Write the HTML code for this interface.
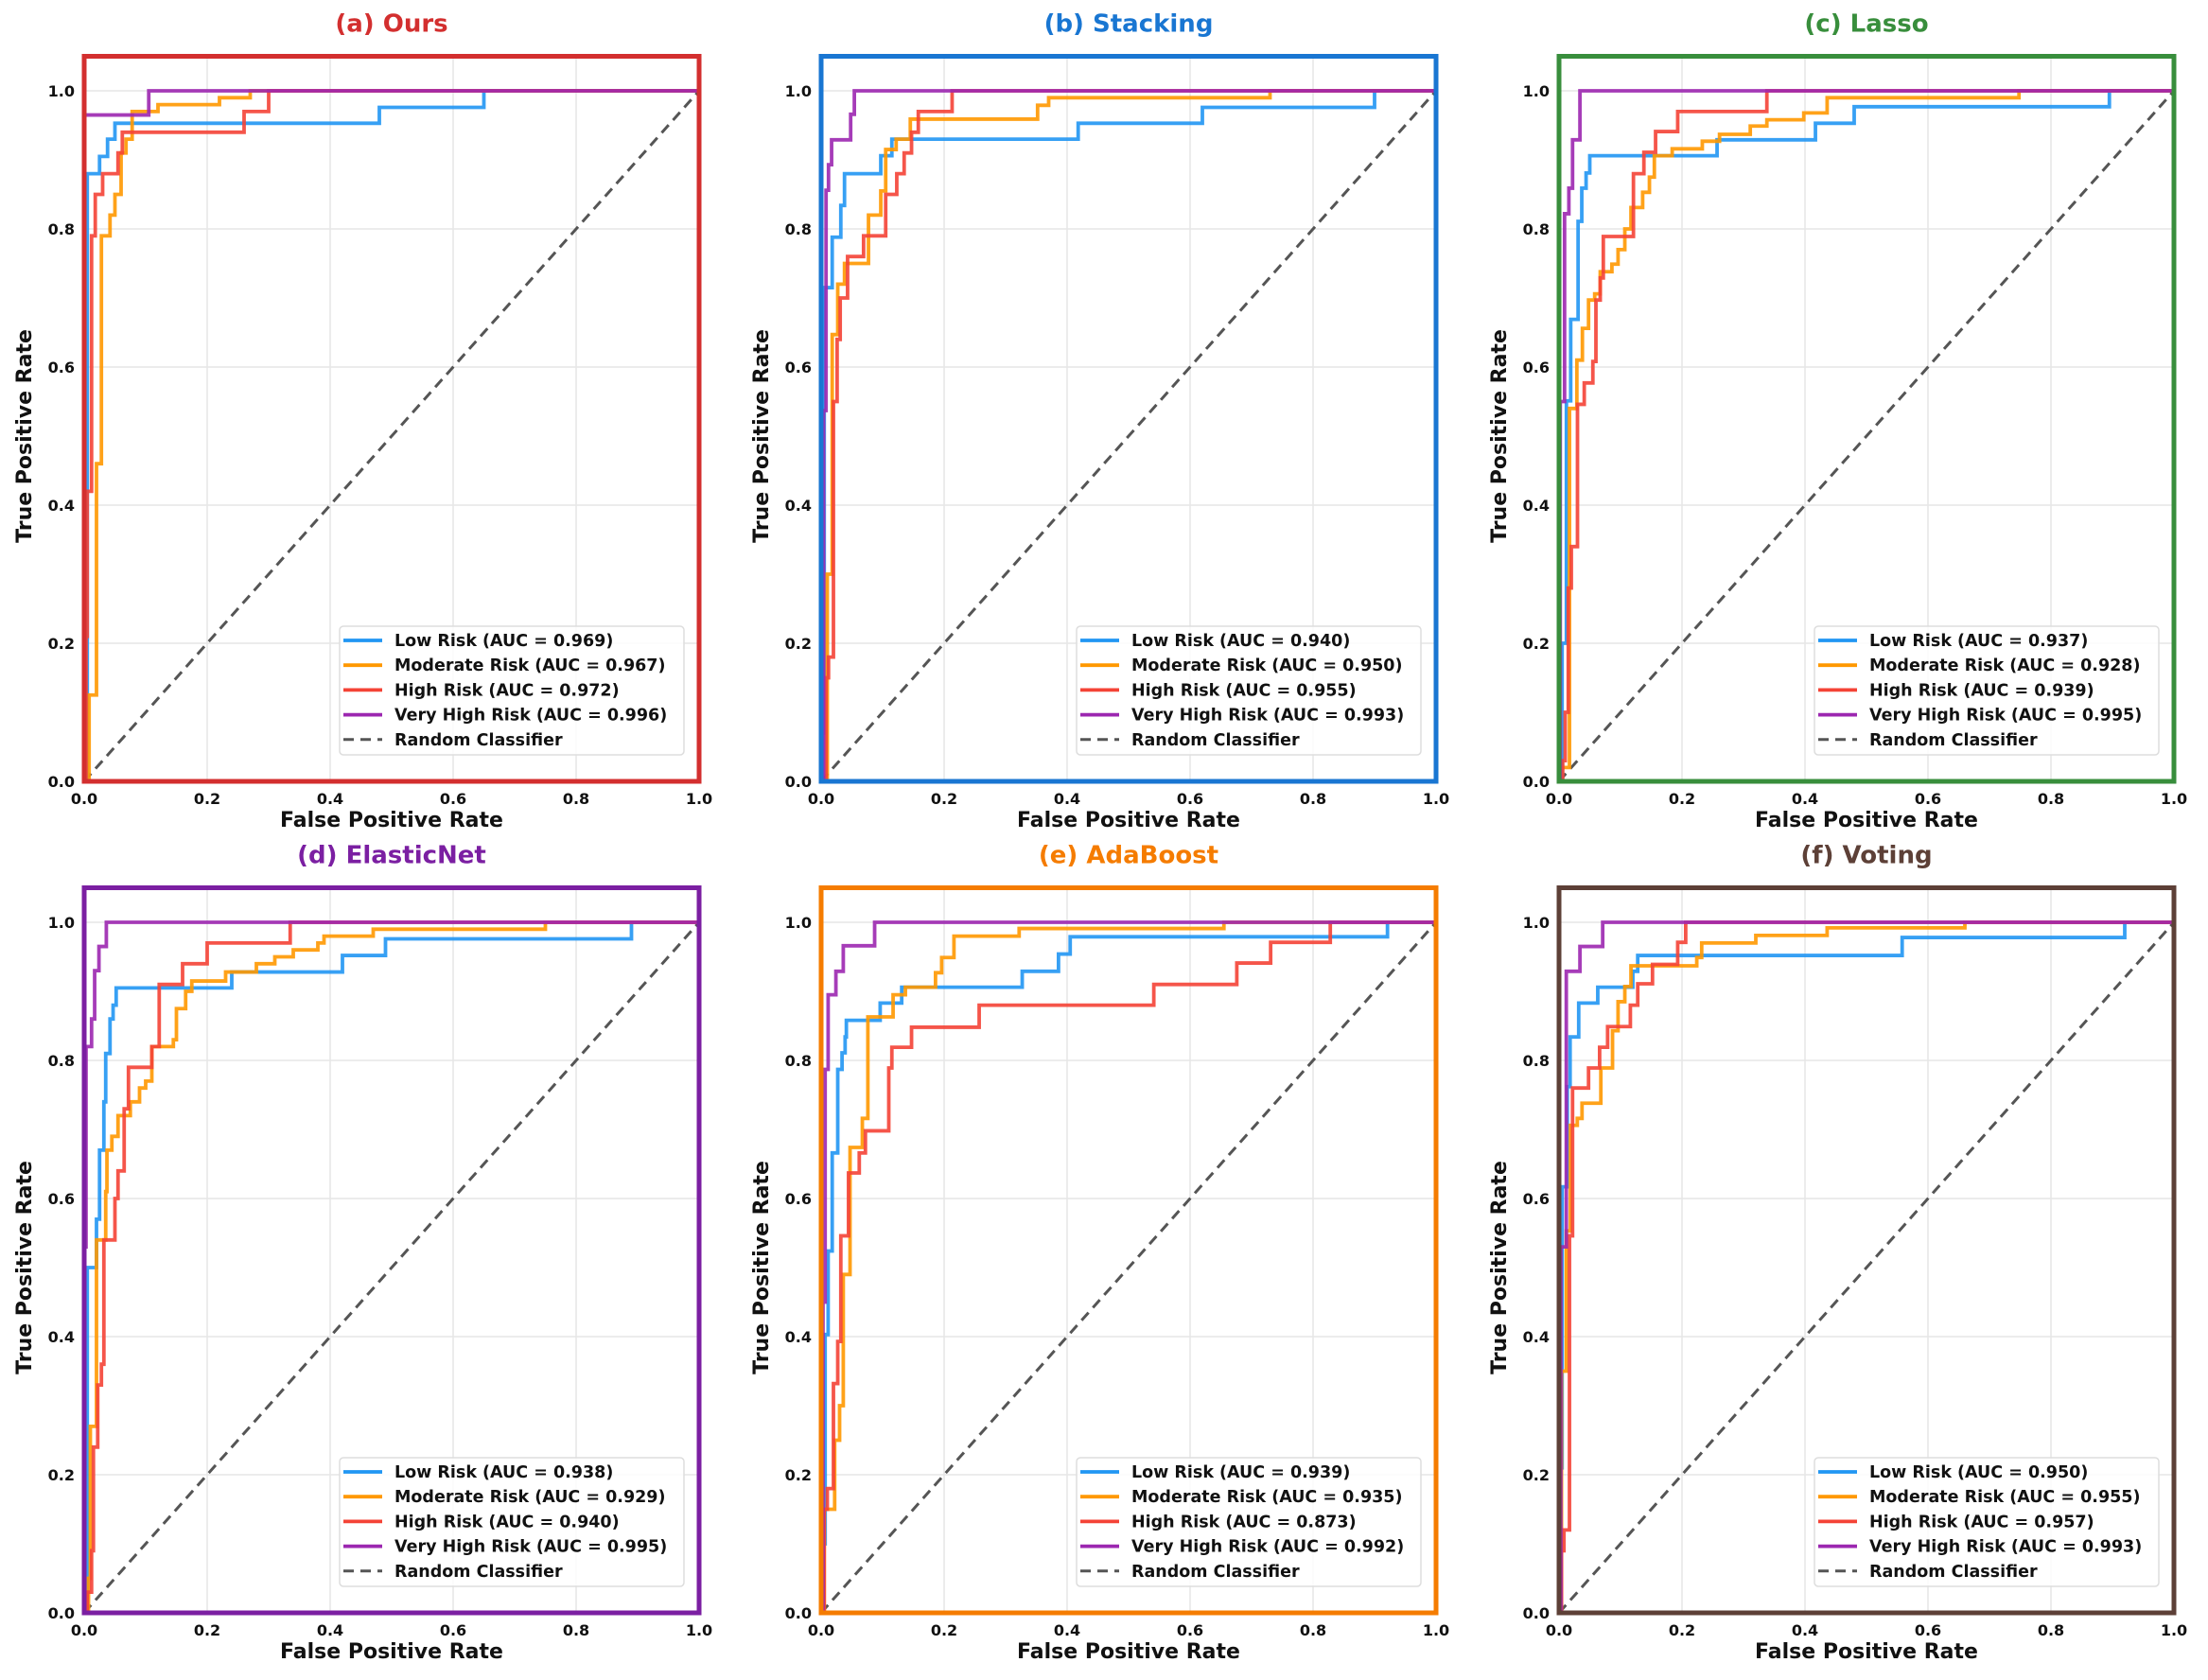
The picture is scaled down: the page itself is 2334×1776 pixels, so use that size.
<!DOCTYPE html>
<html><head><meta charset="utf-8">
<style>
html,body{margin:0;padding:0;background:#fff;}
svg{display:block;font-family:"DejaVu Sans","Liberation Sans",sans-serif;}
</style></head>
<body>
<svg id="fig" width="2334" height="1776" viewBox="0 0 2334 1776" xmlns="http://www.w3.org/2000/svg"></svg>
<script>
// ---- data ----
const panelTitles = ["(a) Ours","(b) Stacking","(c) Lasso","(d) ElasticNet","(e) AdaBoost","(f) Voting"];
const seriesNames = ["Low Risk","Moderate Risk","High Risk","Very High Risk"];
const xTicks = [0,0.2,0.4,0.6,0.8,1.0];
const yTicks = [0,0.2,0.4,0.6,0.8,1.0];
const tickLabels = ["0.0","0.2","0.4","0.6","0.8","1.0"];
const aucA = ["0.969","0.967","0.972","0.996"];
const aucB = ["0.940","0.950","0.955","0.993"];
const aucC = ["0.937","0.928","0.939","0.995"];
const aucD = ["0.938","0.929","0.940","0.995"];
const aucE = ["0.939","0.935","0.873","0.992"];
const aucF = ["0.950","0.955","0.957","0.993"];
// ROC points [fpr, tpr] per panel/series
const rocA_low = [[0,0],[0.005,0.66],[0.005,0.88],[0.025,0.905],[0.038,0.93],[0.05,0.953],[0.48,0.976],[0.65,1],[1,1]];
const rocA_mod = [[0,0],[0.008,0.1],[0.008,0.125],[0.02,0.46],[0.028,0.79],[0.042,0.82],[0.05,0.85],[0.06,0.91],[0.068,0.93],[0.078,0.97],[0.12,0.98],[0.22,0.99],[0.27,1],[1,1]];
const rocA_high = [[0,0],[0.003,0.21],[0.005,0.42],[0.012,0.79],[0.018,0.85],[0.03,0.88],[0.055,0.91],[0.062,0.94],[0.26,0.97],[0.3,1],[1,1]];
const rocA_vh = [[0,0],[0,0.965],[0.105,1],[1,1]];
const rocB_low = [[0,0],[0.002,0.07],[0.005,0.715],[0.018,0.788],[0.032,0.834],[0.038,0.88],[0.097,0.906],[0.115,0.93],[0.418,0.953],[0.62,0.976],[0.9,1],[1,1]];
const rocB_mod = [[0,0],[0.01,0.3],[0.018,0.647],[0.027,0.72],[0.038,0.75],[0.077,0.82],[0.097,0.855],[0.105,0.915],[0.122,0.93],[0.145,0.959],[0.352,0.979],[0.37,0.99],[0.73,1],[1,1]];
const rocB_high = [[0,0],[0.008,0.15],[0.012,0.18],[0.02,0.55],[0.026,0.64],[0.031,0.7],[0.043,0.76],[0.069,0.79],[0.105,0.85],[0.123,0.88],[0.135,0.91],[0.147,0.94],[0.158,0.97],[0.213,1],[1,1]];
const rocB_vh = [[0,0],[0.004,0.537],[0.008,0.856],[0.012,0.893],[0.017,0.929],[0.048,0.966],[0.054,1],[1,1]];
const rocC_low = [[0,0],[0.005,0.2],[0.012,0.551],[0.019,0.669],[0.031,0.811],[0.037,0.859],[0.044,0.881],[0.05,0.906],[0.257,0.929],[0.417,0.953],[0.48,0.977],[0.895,1],[1,1]];
const rocC_mod = [[0,0],[0.003,0.02],[0.017,0.54],[0.029,0.61],[0.038,0.656],[0.048,0.697],[0.058,0.706],[0.067,0.738],[0.086,0.749],[0.096,0.77],[0.107,0.8],[0.117,0.831],[0.136,0.853],[0.147,0.875],[0.155,0.906],[0.184,0.916],[0.233,0.927],[0.261,0.937],[0.311,0.949],[0.338,0.958],[0.398,0.968],[0.436,0.99],[0.748,1],[1,1]];
const rocC_high = [[0,0],[0.006,0.03],[0.01,0.1],[0.015,0.28],[0.02,0.34],[0.03,0.546],[0.041,0.577],[0.055,0.608],[0.06,0.697],[0.067,0.729],[0.072,0.789],[0.121,0.88],[0.138,0.911],[0.157,0.941],[0.193,0.97],[0.338,1],[1,1]];
const rocC_vh = [[0,0],[0.002,0.55],[0.009,0.822],[0.016,0.859],[0.022,0.929],[0.034,1],[1,1]];
const rocD_low = [[0,0],[0.005,0.5],[0.02,0.57],[0.025,0.67],[0.032,0.74],[0.035,0.81],[0.042,0.86],[0.047,0.88],[0.052,0.905],[0.24,0.928],[0.42,0.952],[0.49,0.976],[0.89,1],[1,1]];
const rocD_mod = [[0,0],[0.007,0.05],[0.01,0.27],[0.02,0.54],[0.035,0.61],[0.037,0.67],[0.045,0.69],[0.055,0.72],[0.075,0.74],[0.09,0.76],[0.1,0.77],[0.11,0.82],[0.145,0.83],[0.15,0.875],[0.165,0.9],[0.175,0.915],[0.23,0.928],[0.28,0.94],[0.31,0.95],[0.34,0.96],[0.38,0.97],[0.39,0.98],[0.47,0.99],[0.75,1],[1,1]];
const rocD_high = [[0,0],[0.005,0.03],[0.012,0.09],[0.015,0.24],[0.022,0.33],[0.028,0.36],[0.032,0.54],[0.05,0.6],[0.055,0.64],[0.065,0.73],[0.072,0.79],[0.11,0.82],[0.122,0.91],[0.16,0.94],[0.2,0.97],[0.335,1],[1,1]];
const rocD_vh = [[0,0],[0,0.53],[0.003,0.82],[0.012,0.86],[0.017,0.93],[0.024,0.965],[0.036,1],[1,1]];
const rocE_low = [[0,0],[0.003,0.1],[0.0065,0.403],[0.0114,0.524],[0.018,0.666],[0.027,0.787],[0.034,0.811],[0.039,0.834],[0.041,0.858],[0.096,0.883],[0.131,0.906],[0.327,0.929],[0.386,0.954],[0.405,0.979],[0.921,1],[1,1]];
const rocE_mod = [[0,0],[0.005,0.15],[0.022,0.25],[0.03,0.3],[0.036,0.49],[0.047,0.674],[0.067,0.716],[0.076,0.863],[0.117,0.895],[0.137,0.906],[0.186,0.927],[0.196,0.949],[0.216,0.98],[0.322,0.991],[0.655,1],[1,1]];
const rocE_high = [[0,0],[0.005,0.15],[0.01,0.18],[0.02,0.332],[0.027,0.393],[0.032,0.546],[0.0445,0.637],[0.062,0.666],[0.072,0.698],[0.11,0.789],[0.115,0.819],[0.147,0.848],[0.257,0.88],[0.541,0.91],[0.676,0.941],[0.731,0.971],[0.828,1],[1,1]];
const rocE_vh = [[0,0],[0.003,0.45],[0.0065,0.787],[0.0114,0.895],[0.024,0.929],[0.036,0.966],[0.087,1],[1,1]];
const rocF_low = [[0,0],[0.002,0.21],[0.005,0.617],[0.0134,0.762],[0.018,0.834],[0.032,0.883],[0.063,0.906],[0.12,0.929],[0.128,0.952],[0.558,0.978],[0.92,1],[1,1]];
const rocF_mod = [[0,0],[0.004,0.35],[0.0118,0.553],[0.0185,0.706],[0.0297,0.716],[0.0374,0.738],[0.068,0.789],[0.087,0.843],[0.096,0.885],[0.107,0.907],[0.117,0.937],[0.224,0.949],[0.232,0.97],[0.32,0.981],[0.436,0.992],[0.66,1],[1,1]];
const rocF_high = [[0,0],[0.004,0.09],[0.008,0.12],[0.017,0.546],[0.022,0.76],[0.048,0.789],[0.066,0.819],[0.079,0.849],[0.116,0.88],[0.128,0.911],[0.152,0.939],[0.193,0.971],[0.206,1],[1,1]];
const rocF_vh = [[0,0],[0.003,0.53],[0.0118,0.929],[0.034,0.965],[0.071,1],[1,1]];

const panelRocs = [[rocA_low,rocA_mod,rocA_high,rocA_vh],[rocB_low,rocB_mod,rocB_high,rocB_vh],[rocC_low,rocC_mod,rocC_high,rocC_vh],[rocD_low,rocD_mod,rocD_high,rocD_vh],[rocE_low,rocE_mod,rocE_high,rocE_vh],[rocF_low,rocF_mod,rocF_high,rocF_vh]];
const panelAucs = [aucA,aucB,aucC,aucD,aucE,aucF];

// ---- styles / layout ----
const seriesColors = ["#2196F3","#FF9800","#F44336","#9C27B0"];
const frameColors = ["#D32F2F","#1976D2","#388E3C","#7B1FA2","#F57C00","#5D4037"];
const colX0 = [89,868,1648];
const rowY0 = [826,1705];
const W = 650, H = 730;
const NS = "http://www.w3.org/2000/svg";
const svg = document.getElementById('fig');
function mk(tag, attrs, parent){const e=document.createElementNS(NS,tag);for(const k in attrs)e.setAttribute(k,attrs[k]);(parent||svg).appendChild(e);return e;}

for(let p=0;p<6;p++){
  const x0 = colX0[p%3], y0 = rowY0[Math.floor(p/3)];
  const sx = v => x0 + v*W;
  const sy = v => y0 - v*H;
  const g = mk('g',{});
  
  
  for(let i=0;i<xTicks.length;i++){
    const gl = mk('line',{x1:sx(xTicks[i]),x2:sx(xTicks[i]),y1:sy(0),y2:sy(1.05),stroke:'#e6e6e6','stroke-width':1.5},g);
    
    
    const hl = mk('line',{x1:sx(0),x2:sx(1),y1:sy(yTicks[i]),y2:sy(yTicks[i]),stroke:'#e6e6e6','stroke-width':1.5},g);
    
    
  }
  const diag = mk('line',{x1:sx(0),y1:sy(0),x2:sx(1),y2:sy(1),stroke:'#555','stroke-width':3,'stroke-dasharray':'11,7'},g);
  
  
  const rocs = panelRocs[p];
  for(let s=0;s<4;s++){
    const pts = rocs[s];
    let d = 'M'+sx(pts[0][0])+','+sy(pts[0][1]);
    for(let i=1;i<pts.length;i++){
      d += ' L'+sx(pts[i][0])+','+sy(pts[i-1][1])+' L'+sx(pts[i][0])+','+sy(pts[i][1]);
    }
    const path = mk('path',{d:d,fill:'none',stroke:seriesColors[s],'stroke-width':3.8,'stroke-opacity':0.9,'stroke-linejoin':'miter'},g);
    
    
  }
  const fr = mk('rect',{x:sx(0),y:sy(1.05),width:W,height:H*1.05,fill:'none',stroke:frameColors[p],'stroke-width':5},g);
  
  
  for(let i=0;i<xTicks.length;i++){
    const tx = mk('text',{x:sx(xTicks[i]),y:y0+24,'text-anchor':'middle','font-size':16,'font-weight':'bold',fill:'#111'},g);
    tx.textContent = tickLabels[i];
    
    
    const ty = mk('text',{x:x0-10,y:sy(yTicks[i])+6,'text-anchor':'end','font-size':16,'font-weight':'bold',fill:'#111'},g);
    ty.textContent = tickLabels[i];
    
    
  }
  const xl = mk('text',{x:x0+W/2,y:y0+48,'text-anchor':'middle','font-size':22,'font-weight':'bold',fill:'#111'},g);
  xl.textContent='False Positive Rate';
  
  
  const ycx = x0-56, ycy = y0-H*0.5;
  const yl = mk('text',{x:ycx,y:ycy,'text-anchor':'middle','font-size':22,'font-weight':'bold',fill:'#111',transform:'rotate(-90 '+ycx+' '+ycy+')'},g);
  yl.textContent='True Positive Rate';
  
  
  const t = mk('text',{x:x0+W/2,y:sy(1.05)-26,'text-anchor':'middle','font-size':26,'font-weight':'bold',fill:frameColors[p]},g);
  t.textContent = panelTitles[p];
  
  
  const lx = x0+270, ly = y0-164;
  const lg = mk('g',{},g);
  
  
  mk('rect',{x:lx,y:ly,width:364,height:136,rx:4,fill:'#fff','fill-opacity':0.85,stroke:'#ddd','stroke-width':1.5},lg);
  const labels = seriesNames.map((n,i)=>n+' (AUC = '+panelAucs[p][i]+')').concat(['Random Classifier']);
  for(let i=0;i<5;i++){
    const cy = ly+15+i*26.2;
    const h = mk('line',{x1:lx+4,x2:lx+45,y1:cy,y2:cy,stroke:i<4?seriesColors[i]:'#555','stroke-width':i<4?3.8:3,'stroke-dasharray':i<4?'none':'11,7'},lg);
    
    
    const tt = mk('text',{x:lx+58,y:cy+6,'font-size':17.5,'font-weight':'bold',fill:'#111'},lg);
    tt.textContent = labels[i];
    
    
  }
}
</script>
</body></html>
